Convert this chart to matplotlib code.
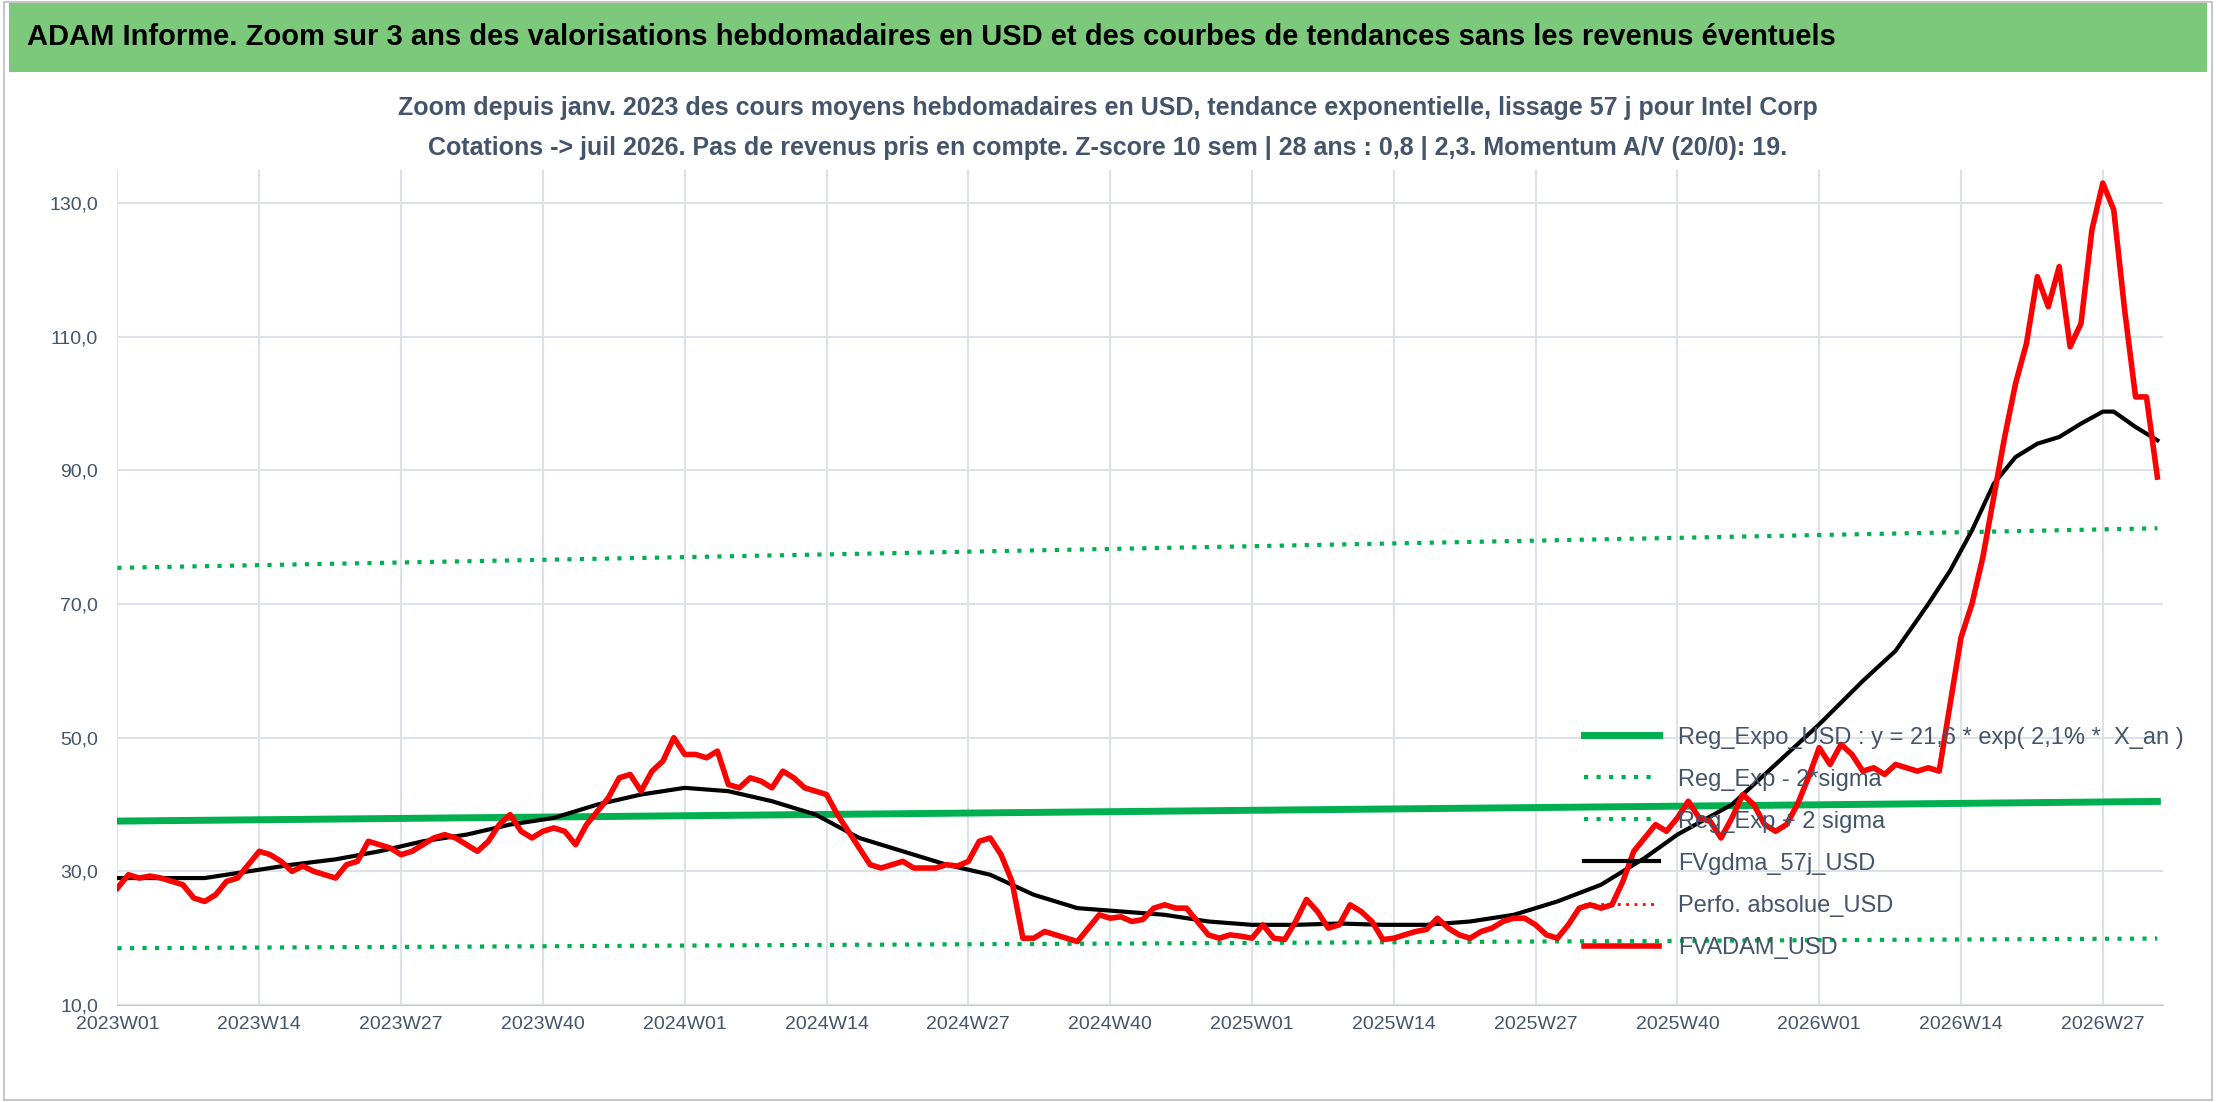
import numpy as np
import matplotlib.pyplot as plt

# weekly FVADAM_USD values, 2023W01 ..
red = [27.5, 29.5, 29, 29.3, 29, 28.5, 28, 26, 25.5, 26.5, 28.5, 29, 31, 33, 32.5, 31.5, 30,
       30.8, 30, 29.5, 29, 31, 31.5, 34.5, 34, 33.5, 32.5, 33, 34, 35, 35.5, 35, 34, 33, 34.5,
       37, 38.5, 36, 35, 36, 36.5, 36, 34, 37, 39, 41, 44, 44.5, 42, 45, 46.5, 50, 47.5, 47.5,
       47, 48, 43, 42.5, 44, 43.5, 42.5, 45, 44, 42.5, 42, 41.5, 38.5, 36, 33.5, 31, 30.5, 31,
       31.5, 30.5, 30.5, 30.5, 31, 30.8, 31.5, 34.5, 35, 32.5, 28.5, 20, 20, 21, 20.5, 20, 19.5,
       21.5, 23.5, 23, 23.2, 22.5, 22.8, 24.5, 25, 24.5, 24.5, 22.5, 20.5, 20, 20.5, 20.3, 20,
       22, 20, 19.8, 22.5, 25.8, 24, 21.5, 22, 25, 24, 22.5, 19.8, 20, 20.5, 21, 21.3, 23, 21.5,
       20.5, 20, 21, 21.5, 22.5, 23, 23, 22, 20.5, 20, 22, 24.5, 25, 24.5, 25, 28.5, 33, 35, 37,
       36, 38, 40.5, 38, 37.5, 35, 38, 41.5, 40, 37, 36, 37, 40, 44, 48.5, 46, 49, 47.5, 45,
       45.5, 44.5, 46, 45.5, 45, 45.5, 45, 55, 65, 70, 77, 86, 95, 103, 109, 119, 114.5, 120.5,
       108.5, 112, 126, 133, 129, 114, 101, 101, 89]

# FVgdma_57j_USD read at selected weeks
black_wk = [0, 4, 8, 12, 16, 20, 24, 28, 32, 36, 40, 44, 48, 52, 56, 60, 64, 68, 72, 76, 80,
            84, 88, 92, 96, 100, 104, 108, 112, 116, 120, 124, 128, 132, 136, 140, 143, 148,
            152, 156, 160, 163, 166, 168, 170, 172, 174, 176, 178, 180, 182, 183, 185, 187]
black = [29, 29, 29, 30, 31, 31.8, 33, 34.5, 35.5, 37, 38, 40, 41.5, 42.5, 42, 40.5, 38.5, 35,
         33, 31, 29.5, 26.5, 24.5, 24, 23.5, 22.5, 22, 22, 22.2, 22, 22, 22.5, 23.5, 25.5, 28,
         32, 35.5, 40, 46, 52, 58.5, 63, 70, 75, 81, 88, 92, 94, 95, 97, 98.8, 98.8, 96.5, 94.5]

# Exponential regression from legend: y = 21,6 * exp(2,1% * X_an)
reg_a, reg_r = 21.6, 0.021
yrs_start = 26.3
sig_lo, sig_hi = 0.493, 2.01

tick_labels = ["2023W01", "2023W14", "2023W27", "2023W40", "2024W01", "2024W14", "2024W27",
               "2024W40", "2025W01", "2025W14", "2025W27", "2025W40", "2026W01", "2026W14",
               "2026W27"]

plt.rcParams['font.family'] = ['Liberation Sans', 'DejaVu Sans']

x = np.arange(len(red))
reg = reg_a * np.exp(reg_r * (yrs_start + x / 52.0))

fig = plt.figure(figsize=(22.16, 11.02), dpi=100)
fig.patches.append(plt.Rectangle((0.002, 0.002), 0.996, 0.996, transform=fig.transFigure,
                                 fill=False, ec="#c8c8c8", lw=1.5))
fig.patches.append(plt.Rectangle((0.004, 0.935), 0.992, 0.062, transform=fig.transFigure,
                                 fc="#7cc97c", ec="none"))
fig.text(0.012, 0.966, "ADAM Informe. Zoom sur 3 ans des valorisations hebdomadaires en USD et des courbes de tendances sans les revenus éventuels",
         fontsize=21, fontweight="bold", va="center", ha="left")
fig.text(0.5, 0.902, "Zoom depuis janv. 2023 des cours moyens hebdomadaires en USD, tendance exponentielle, lissage 57 j pour Intel Corp",
         fontsize=18, fontweight="bold", color="#44546a", ha="center", va="center")
fig.text(0.5, 0.866, "Cotations -> juil 2026. Pas de revenus pris en compte. Z-score 10 sem | 28 ans : 0,8 | 2,3. Momentum A/V (20/0): 19.",
         fontsize=18, fontweight="bold", color="#44546a", ha="center", va="center")

ax = fig.add_axes([0.053, 0.088, 0.923, 0.758])
ax.plot(x, reg, color="#00b050", lw=5, label="Reg_Expo_USD : y = 21,6 * exp( 2,1% *  X_an )", zorder=3)
ax.plot(x, reg * sig_lo, color="#00b050", lw=3, ls=(0, (1, 2)), label="Reg_Exp - 2*sigma", zorder=3)
ax.plot(x, reg * sig_hi, color="#00b050", lw=3, ls=(0, (1, 2)), label="Reg_Exp + 2 sigma", zorder=3)
ax.plot(black_wk, black, color="black", lw=3, label="FVgdma_57j_USD", zorder=4)
ax.plot([], [], color="#ff0000", lw=2, ls=(0, (1, 2)), label="Perfo. absolue_USD")
ax.plot(x, red, color="#ff0000", lw=4, label="FVADAM_USD", zorder=5)

ax.set_xlim(0, len(red) - 0.5)
ax.set_ylim(10, 135)
ax.set_yticks(np.arange(10, 131, 20))
ax.set_yticklabels([f"{v},0" for v in range(10, 131, 20)])
ax.set_xticks(np.arange(0, 13 * len(tick_labels), 13))
ax.set_xticklabels(tick_labels)
ax.tick_params(labelsize=14, colors="#44546a", length=0)
ax.tick_params(axis="y", pad=14)
ax.tick_params(axis="x", pad=8)
ax.grid(True, color="#dde1e8", lw=1.5)
for s in ax.spines.values():
    s.set_visible(False)
ax.spines["bottom"].set_visible(True)
ax.spines["bottom"].set_color("#c8c8c8")

leg = fig.legend(loc="upper left", bbox_to_anchor=(0.705, 0.36), frameon=False, fontsize=17,
                 handlelength=3.2, labelspacing=0.85, labelcolor="#44546a")
leg.set_zorder(1)

fig.savefig("out.png", dpi=100)
